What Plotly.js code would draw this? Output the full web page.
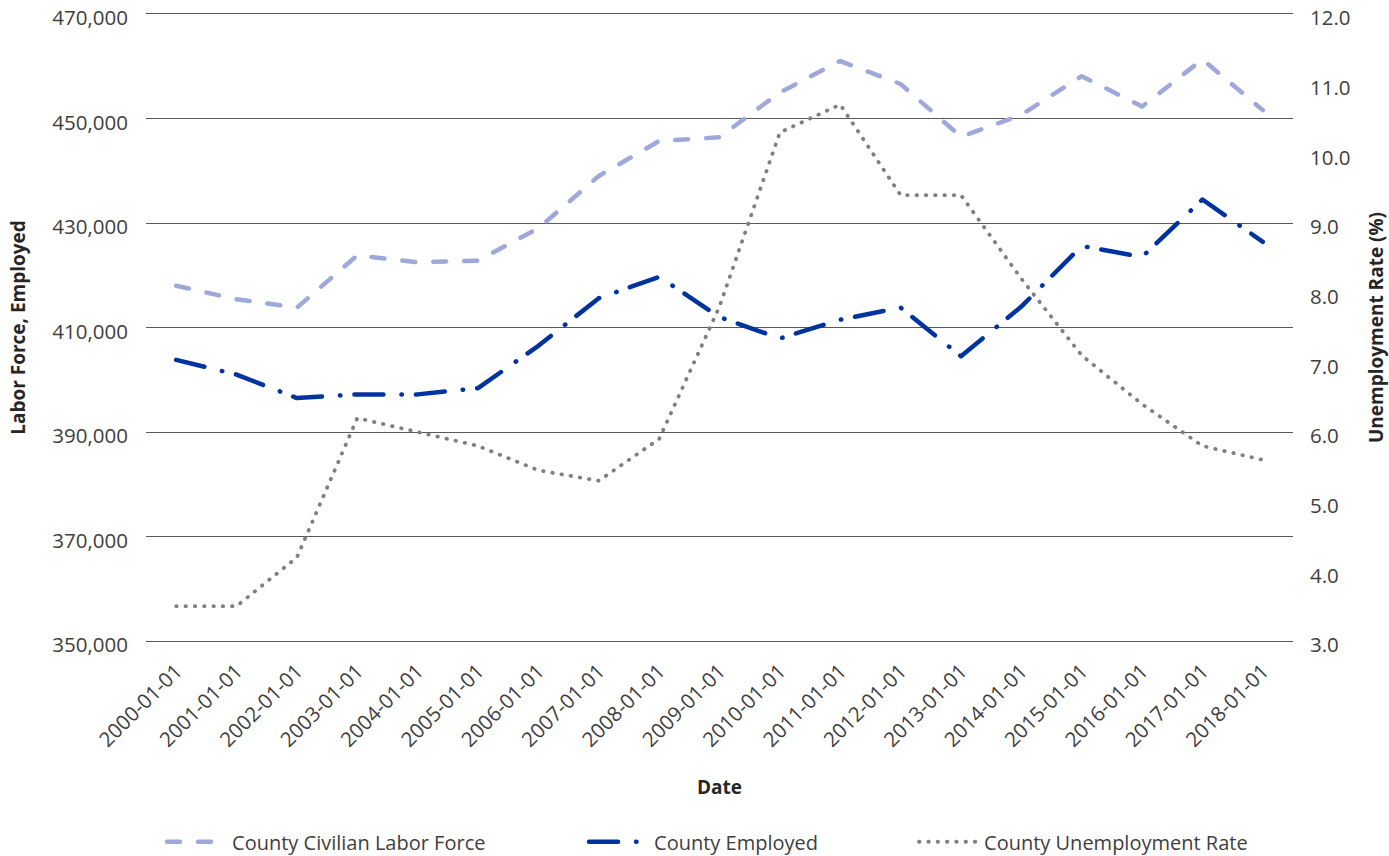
<!DOCTYPE html>
<html>
<head>
<meta charset="utf-8">
<script src="https://cdn.plot.ly/plotly-3.0.1.min.js"></script>
<style>
html,body{margin:0;padding:0;background:#fff;}
#chart{width:1389px;height:856px;}
</style>
</head>
<body>
<div id="chart"></div>
<script>
const dates = ["2000-01-01","2001-01-01","2002-01-01","2003-01-01","2004-01-01","2005-01-01","2006-01-01","2007-01-01","2008-01-01","2009-01-01","2010-01-01","2011-01-01","2012-01-01","2013-01-01","2014-01-01","2015-01-01","2016-01-01","2017-01-01","2018-01-01"];
const laborForce = [418000,415400,413800,423800,422500,422800,429000,439000,445700,446400,455000,461000,456600,446500,450700,458100,452300,461300,451600];
const employed = [403800,401000,396500,397200,397200,398400,406500,415600,419700,412000,407900,411500,413800,404500,414000,425600,423500,434500,426400];
const unemploymentRate = [3.5,3.5,4.2,6.2,6.0,5.8,5.45,5.3,5.9,7.8,10.3,10.7,9.4,9.4,8.2,7.1,6.4,5.8,5.6];

const leftTicks = [350000,370000,390000,410000,430000,450000,470000];
const rightTicks = [3,4,5,6,7,8,9,10,11,12];

const FONT = "'Open Sans', 'DejaVu Sans', sans-serif";
const TXT = "#404040";
const GRID = "#595959";

const traces = [
  {
    x: dates, y: laborForce, name: "County Civilian Labor Force",
    type: "scatter", mode: "lines", yaxis: "y", legend: "legend",
    line: {color: "#9FA8DA", width: 4.5, dash: "13px,18px"}
  },
  {
    x: dates, y: employed, name: "County Employed",
    type: "scatter", mode: "lines", yaxis: "y", legend: "legend2",
    line: {color: "#0033A0", width: 4.5, dash: "29px,18px,0.5px,14px"}
  },
  {
    x: dates, y: unemploymentRate, name: "County Unemployment Rate",
    type: "scatter", mode: "lines", yaxis: "y2", legend: "legend3",
    line: {color: "#808080", width: 3.8, dash: "0.5px,8.8px"}
  }
];

const legendBase = {
  orientation: "h", yanchor: "middle", y: -0.3202, xanchor: "left", itemwidth: 60,
  font: {family: FONT, size: 20, color: TXT}, bgcolor: "rgba(0,0,0,0)"
};

const layout = {
  width: 1389, height: 856,
  margin: {l: 146, r: 96, t: 14, b: 215, autoexpand: false},
  paper_bgcolor: "#ffffff", plot_bgcolor: "#ffffff",
  font: {family: FONT, size: 20, color: TXT},
  showlegend: true,
  xaxis: {
    type: "category", range: [-0.5, 18.5],
    tickvals: dates, ticktext: dates, tickangle: -45,
    showgrid: false, zeroline: false, ticks: "",
    showline: true, mirror: true, linecolor: GRID, linewidth: 1,
    tickfont: {family: FONT, size: 20.5, color: TXT},
    ticklabelstandoff: 9,
    title: {text: "<b>Date</b>", font: {family: FONT, size: 19, color: "#262626"}, standoff: 29},
    automargin: false
  },
  yaxis: {
    range: [350000, 470000], tickvals: leftTicks, tickformat: ",d",
    showgrid: true, gridcolor: GRID, gridwidth: 1, zeroline: false, showline: false, ticks: "",
    tickfont: {family: FONT, size: 20.5, color: TXT},
    ticklabelstandoff: 17, ticklabelshift: 4,
    title: {text: "<b>Labor Force, Employed</b>", font: {family: FONT, size: 19, color: "#262626"}, standoff: 21},
    automargin: false
  },
  yaxis2: {
    overlaying: "y", side: "right",
    range: [3, 12], tickvals: rightTicks, tickformat: ".1f",
    showgrid: false, zeroline: false, showline: false, ticks: "",
    tickfont: {family: FONT, size: 20.5, color: TXT},
    ticklabelstandoff: 16, ticklabelshift: 4,
    title: {text: "<b>Unemployment Rate (%)</b>", font: {family: FONT, size: 19, color: "#262626"}, standoff: 23},
    automargin: false
  },
  legend: Object.assign({}, legendBase, {x: 0.0140}),
  legend2: Object.assign({}, legendBase, {x: 0.3819}),
  legend3: Object.assign({}, legendBase, {x: 0.6696})
};

function roundCaps(gd){
  gd.querySelectorAll('.scatterlayer .js-line, .legendlines path').forEach(p => {
    p.style.strokeLinecap = 'round';
    p.style.strokeLinejoin = 'round';
  });
}

const gd = document.getElementById('chart');
Plotly.newPlot(gd, traces, layout, {displayModeBar: false, staticPlot: true}).then(() => {
  roundCaps(gd);
  gd.on('plotly_afterplot', () => roundCaps(gd));
});
</script>
</body>
</html>
